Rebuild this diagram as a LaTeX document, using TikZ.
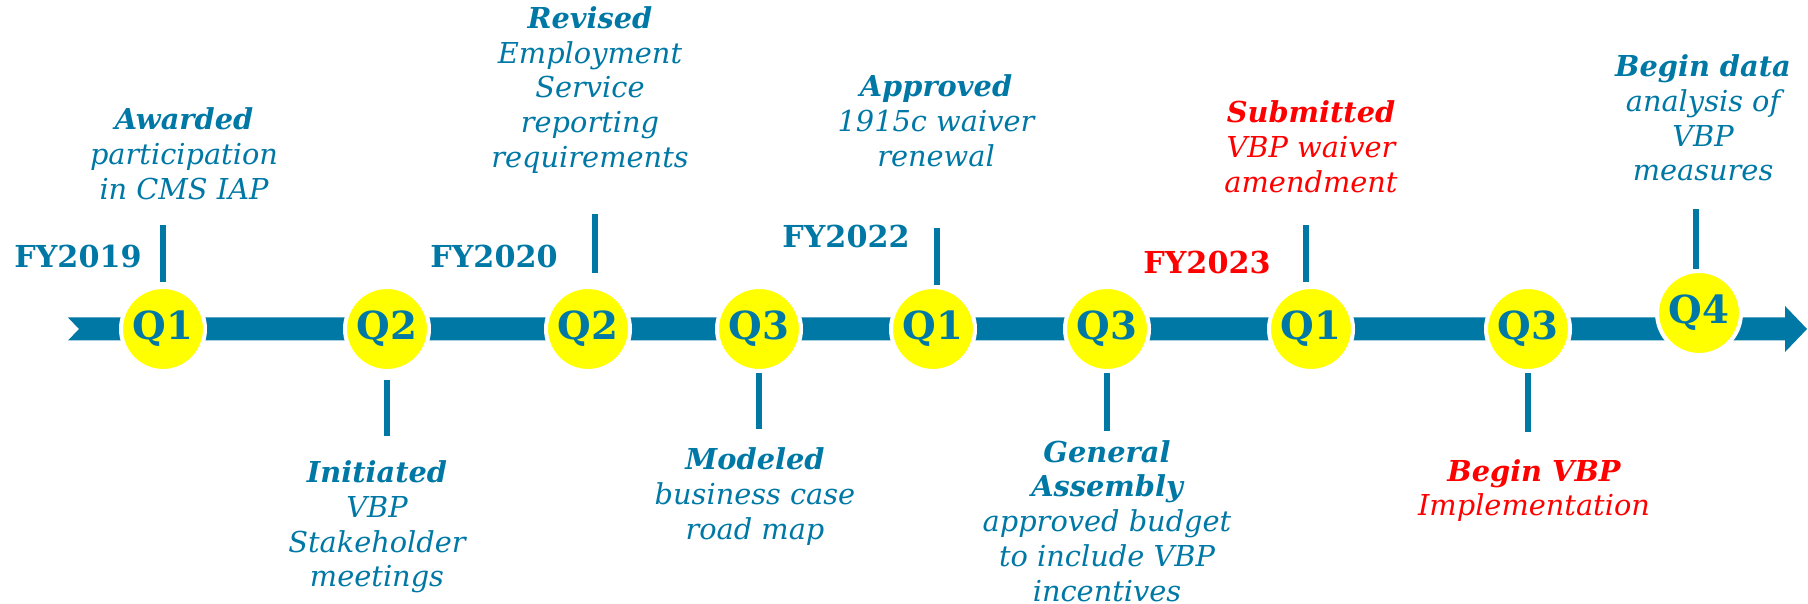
\documentclass[tikz,border=0pt]{standalone}
\usepackage{fontspec}
\setmainfont{DejaVu Serif}
\usetikzlibrary{arrows.meta,positioning,calc}
\definecolor{TimelineBlue}{HTML}{0078A5}
\definecolor{MarkerYellow}{HTML}{FFFF00}
\definecolor{AlertRed}{HTML}{FF0000}

\begin{document}
\begin{tikzpicture}[every node/.style={font=\fontsize{8.2}{9.9}\selectfont\itshape, text=TimelineBlue, align=center},
    quarter/.style={circle, fill=MarkerYellow, draw=white, line width=0.4mm, minimum size=0.84cm, inner sep=0pt,
      font=\fontsize{11}{13}\selectfont\bfseries},
    fyear/.style={font=\fontsize{8.6}{10}\selectfont\bfseries},
    tick/.style={draw=TimelineBlue, line width=0.06cm},
    late/.style={text=AlertRed}]
    \useasboundingbox (0,0) rectangle (18.08,6.04);
    % timeline bar
    \fill[TimelineBlue] (0.68,2.865) -- (17.85,2.865) -- (17.85,2.98) -- (18.07,2.75) -- (17.85,2.52)
      -- (17.85,2.635) -- (0.68,2.635) -- (0.79,2.75) -- cycle;

    % quarters
    \node[quarter] (qa) at (1.63,2.75) {Q1};
    \node[quarter] (qb) at (3.87,2.75) {Q2};
    \node[quarter] (qc) at (5.88,2.75) {Q2};
    \node[quarter] (qd) at (7.59,2.75) {Q3};
    \node[quarter] (qe) at (9.33,2.75) {Q1};
    \node[quarter] (qf) at (11.07,2.75) {Q3};
    \node[quarter] (qg) at (13.11,2.75) {Q1};
    \node[quarter] (qh) at (15.28,2.75) {Q3};
    \node[quarter] (qi) at (16.99,2.91) {Q4};

    % ticks
    \draw[tick] ([yshift=0.03cm]qa.north) -- ++(0,0.57);
    \draw[tick] ([yshift=-0.07cm]qb.south) -- ++(0,-0.56);
    \draw[tick] ([xshift=0.07cm,yshift=0.12cm]qc.north) -- ++(0,0.59);
    \draw[tick] (qd.south) -- ++(0,-0.56);
    \draw[tick] ([xshift=0.04cm]qe.north) -- ++(0,0.57);
    \draw[tick] (qf.south) -- ++(0,-0.58);
    \draw[tick] ([xshift=-0.05cm,yshift=0.03cm]qg.north) -- ++(0,0.57);
    \draw[tick] (qh.south) -- ++(0,-0.59);
    \draw[tick] ([xshift=-0.03cm]qi.north) -- ++(0,0.60);

    % fiscal years
    \node[fyear] (fy19) at (0.78,3.47) {FY2019};
    \node[fyear] (fy20) at (4.94,3.47) {FY2020};
    \node[fyear] (fy22) at (8.46,3.67) {FY2022};
    \node[fyear, late] (fy23) at (12.07,3.41) {FY2023};

    % milestones above
    \node (awarded) at (1.84,4.50) {\textbf{Awarded}\\participation\\in CMS IAP};
    \node (revised) at (5.90,5.14) {\textbf{Revised}\\Employment\\Service\\reporting\\requirements};
    \node (approved) at (9.36,4.83) {\textbf{Approved}\\1915c waiver\\renewal};
    \node[late] (submitted) at (13.11,4.575) {\textbf{Submitted}\\VBP waiver\\amendment};
    \node (analysis) at (17.03,4.86) {\textbf{Begin data}\\analysis of\\VBP\\measures};

    % milestones below
    \node (initiated) at (3.77,0.77) {\textbf{Initiated}\\VBP\\Stakeholder\\meetings};
    \node (modeled) at (7.55,1.075) {\textbf{Modeled}\\business case\\road map};
    \node (assembly) at (11.07,0.83) {\textbf{General}\\\textbf{Assembly}\\approved budget\\to include VBP\\incentives};
    \node[late] (beginvbp) at (15.34,1.135) {\textbf{Begin VBP}\\Implementation};
\end{tikzpicture}
\end{document}
